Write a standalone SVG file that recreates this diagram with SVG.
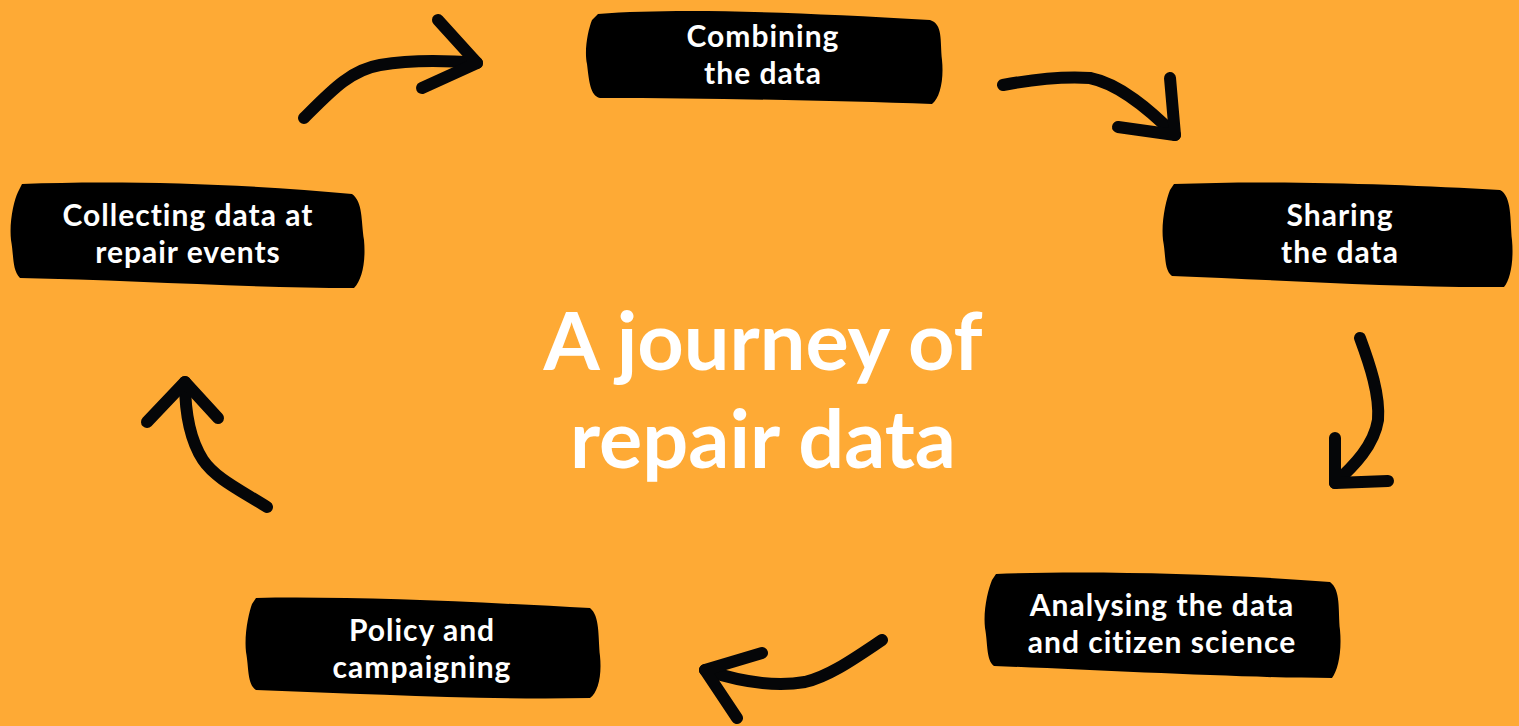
<svg xmlns="http://www.w3.org/2000/svg" width="1519" height="726" viewBox="0 0 1519 726">
<style>
.bg{fill:#FEAA35}
.box{fill:#000}
.lbl{font-family:Lato,"Open Sans",sans-serif;font-weight:700;font-size:30px;letter-spacing:1px;fill:#fff;text-anchor:middle}
.title{font-family:Lato,"Open Sans",sans-serif;font-weight:700;font-size:81px;fill:#fff;text-anchor:middle}
.arr{fill:none;stroke:#050608;stroke-width:12;stroke-linecap:round;stroke-linejoin:round}
</style>
<rect class="bg" x="0" y="0" width="1519" height="726"/>
<g id="title">
<text class="title" x="763" y="370">A journey of</text>
<text class="title" x="763" y="468">repair data</text>
</g>
<g id="combining">
<path class="box" d="M598,14 C680,8 790,12 930,20 C943,24 940,40 942,60 C944,80 940,98 932,104 C840,101 720,98 600,98 C590,96 589,80 587,64 C584,50 588,30 592,20 Z"/>
<text class="lbl" x="763" y="47">Combining</text>
<text class="lbl" x="763" y="84">the data</text>
</g>
<g id="sharing">
<path class="box" d="M1174,184 C1270,180 1400,184 1500,190 C1512,196 1510,220 1512,240 C1514,262 1510,280 1504,287 C1400,288 1280,280 1172,276 C1164,270 1166,256 1163,240 C1161,222 1166,200 1170,190 Z"/>
<text class="lbl" x="1340" y="226">Sharing</text>
<text class="lbl" x="1340" y="263">the data</text>
</g>
<g id="analysing">
<path class="box" d="M996,574 C1090,570 1230,574 1330,582 C1341,590 1338,610 1340,630 C1342,652 1338,670 1332,678 C1240,678 1100,670 994,666 C986,660 988,644 985,628 C983,610 988,590 992,580 Z"/>
<text class="lbl" x="1162" y="616">Analysing the data</text>
<text class="lbl" x="1162" y="653">and citizen science</text>
</g>
<g id="policy">
<path class="box" d="M256,598 C350,596 480,602 590,608 C600,616 598,636 600,656 C602,676 598,692 590,698 C480,700 370,694 256,690 C247,684 249,668 246,652 C244,634 249,612 252,604 Z"/>
<text class="lbl" x="422" y="641">Policy and</text>
<text class="lbl" x="422" y="678">campaigning</text>
</g>
<g id="collecting">
<path class="box" d="M22,184 C120,180 250,184 352,194 C363,202 361,220 364,240 C366,262 362,280 354,288 C250,288 130,280 20,278 C12,270 14,256 11,240 C9,222 14,200 18,192 Z"/>
<text class="lbl" x="188" y="226">Collecting data at</text>
<text class="lbl" x="188" y="263">repair events</text>
</g>
<g id="connectors">
<path class="arr" d="M304,118 C330,92 350,70 380,65 C410,60 440,60 477,63"/>
<path class="arr" d="M438,20 L477,63 L422,88"/>
<path class="arr" d="M1003,85 C1030,80 1060,76 1090,78 C1120,84 1150,110 1175,135"/>
<path class="arr" d="M1170,78 L1175,135 L1118,127"/>
<path class="arr" d="M1360,338 C1370,365 1380,395 1378,420 C1374,445 1355,465 1335,483"/>
<path class="arr" d="M1335,438 L1335,483 L1388,481"/>
<path class="arr" d="M882,640 C855,658 830,676 805,682 C770,688 735,680 705,670"/>
<path class="arr" d="M762,653 L705,670 L737,718"/>
<path class="arr" d="M267,507 C240,490 215,478 203,460 C190,440 185,415 185,382"/>
<path class="arr" d="M147,422 L185,382 L218,418"/>
</g>
</svg>
